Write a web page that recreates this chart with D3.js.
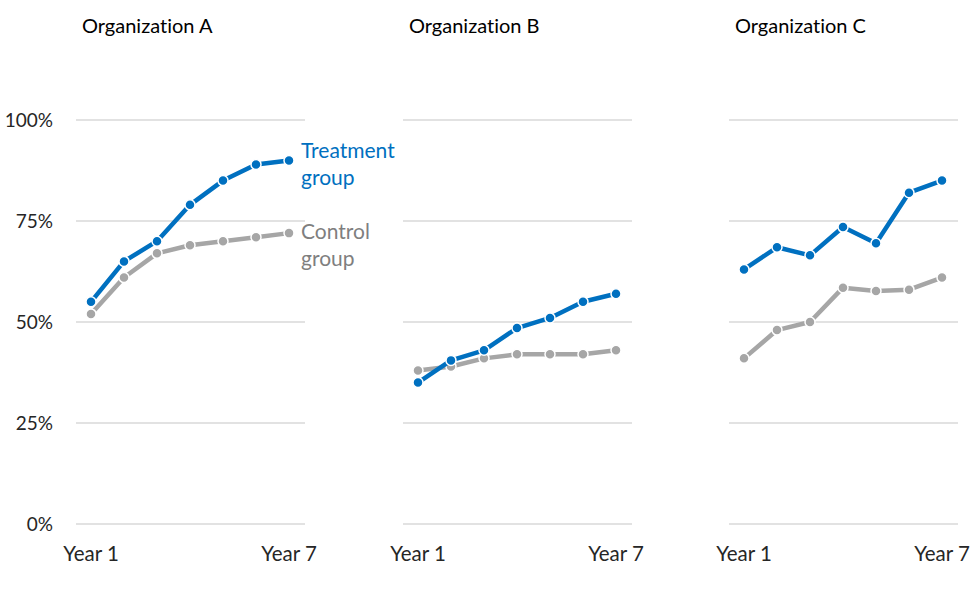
<!DOCTYPE html>
<html>
<head>
<meta charset="utf-8">
<script src="https://cdn.jsdelivr.net/npm/d3@7"></script>
<style>
  body { margin: 0; background: #fff; }
  svg { font-family: Lato, "Open Sans", sans-serif; font-variant-ligatures: none; }
</style>
</head>
<body>
<div id="chart"></div>
<script>
const width = 975, height = 599;

// data
const organizations = ["Organization A", "Organization B", "Organization C"];
const years = [1, 2, 3, 4, 5, 6, 7];
const yTicks = [0, 25, 50, 75, 100];
const xTickLabels = ["Year 1", "Year 7"];
const treatmentA = [55, 65, 70, 79, 85, 89, 90];
const controlA   = [52, 61, 67, 69, 70, 71, 72];
const treatmentB = [35, 40.5, 43, 48.5, 51, 55, 57];
const controlB   = [38, 39, 41, 42, 42, 42, 43];
const treatmentC = [63, 68.5, 66.5, 73.5, 69.5, 82, 85];
const controlC   = [41, 48, 50, 58.5, 57.7, 58, 61];

const treatment = [treatmentA, treatmentB, treatmentC];
const control = [controlA, controlB, controlC];

const blue = "#0070c0", grey = "#a6a6a6";

const svg = d3.select("#chart").append("svg")
    .attr("width", width)
    .attr("height", height);

const y = d3.scaleLinear().domain([0, 100]).range([524, 120]);

// left edge of first point for each panel
const panelStart = [91, 418, 744];
const panelSpan = 198;

organizations.forEach((org, i) => {
    const x = d3.scaleLinear().domain([1, 7]).range([panelStart[i], panelStart[i] + panelSpan]);
    const g = svg.append("g");

    // gridlines
    g.append("g")
        .selectAll("line")
        .data(yTicks)
        .enter()
        .append("line")
        .attr("x1", x(1) - 15)
        .attr("x2", x(7) + 16)
        .attr("y1", d => y(d))
        .attr("y2", d => y(d))
        .attr("stroke", "#d9d9d9")
        .attr("stroke-width", 1.5);

    // title
    g.append("text")
        .attr("x", x(1) - 9)
        .attr("y", 33)
        .attr("font-size", "20px")
        .attr("fill", "#000")
        .text(org);

    // x labels (first and last year only)
    g.append("g")
        .selectAll("text")
        .data([1, 7])
        .enter()
        .append("text")
        .attr("x", d => x(d))
        .attr("y", 561)
        .attr("text-anchor", "middle")
        .attr("font-size", "20.5px")
        .attr("fill", "#262626")
        .text((d, k) => xTickLabels[k]);

    const line = d3.line()
        .x((d, k) => x(years[k]))
        .y(d => y(d));

    [[control[i], grey], [treatment[i], blue]].forEach(([vals, color]) => {
        g.append("path")
            .datum(vals)
            .attr("d", line)
            .attr("fill", "none")
            .attr("stroke", color)
            .attr("stroke-width", 4.5)
            .attr("stroke-linejoin", "round");

        g.append("g")
            .selectAll("circle")
            .data(vals)
            .enter()
            .append("circle")
            .attr("cx", (d, k) => x(years[k]))
            .attr("cy", d => y(d))
            .attr("r", 5)
            .attr("fill", color)
            .attr("stroke", "#fff")
            .attr("stroke-width", 1.5);
    });

    // y axis labels only on the first panel
    if (i === 0) {
        g.append("g")
            .selectAll("text")
            .data(yTicks)
            .enter()
            .append("text")
            .attr("x", 53)
            .attr("y", d => y(d))
            .attr("dy", "0.35em")
            .attr("text-anchor", "end")
            .attr("font-size", "19px")
            .attr("fill", "#262626")
            .text(d => d + "%");

        // inline series labels
        const lx = x(7) + 12;
        g.append("text")
            .attr("x", lx).attr("y", 158)
            .attr("font-size", "21px").attr("fill", blue)
            .text("Treatment");
        g.append("text")
            .attr("x", lx).attr("y", 185)
            .attr("font-size", "21px").attr("fill", blue)
            .text("group");
        g.append("text")
            .attr("x", lx).attr("y", 239)
            .attr("font-size", "21px").attr("fill", "#7f7f7f")
            .text("Control");
        g.append("text")
            .attr("x", lx).attr("y", 266)
            .attr("font-size", "21px").attr("fill", "#7f7f7f")
            .text("group");
    }
});
</script>
</body>
</html>
